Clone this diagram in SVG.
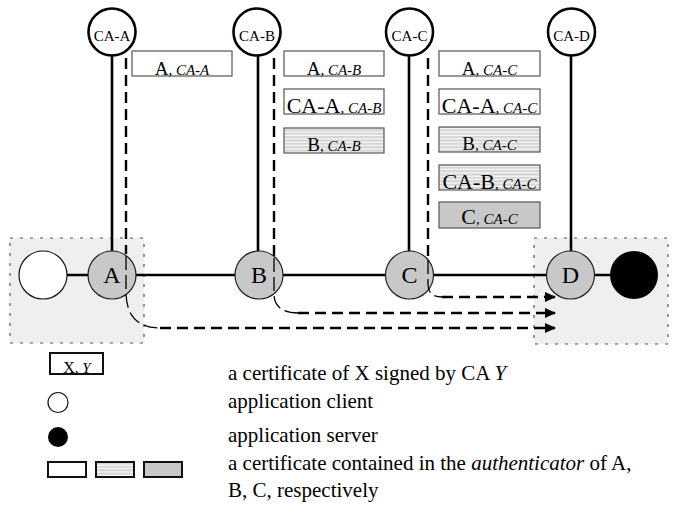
<svg xmlns="http://www.w3.org/2000/svg" width="673" height="512" viewBox="0 0 673 512">
<style>
text{font-family:"Liberation Serif","Times New Roman",serif;fill:#000}
.zone{fill:#efefef;stroke:#555;stroke-width:1.2;stroke-dasharray:3 7}
.link{stroke:#000;stroke-width:2.6;fill:none}
.ca{fill:#fff;stroke:#000;stroke-width:2.6}
.ca-t{font-size:15px;text-anchor:middle}
.node{fill:#c8c8c8;stroke:#222;stroke-width:1.2}
.node-t{font-size:24px;text-anchor:middle}
.cert{stroke:#555;stroke-width:1.2}
.w{fill:#fff}
.s{fill:url(#stripe)}
.g{fill:#c8c8c8}
.ct{text-anchor:middle}
.it{font-style:italic;font-size:15px}
.flow{stroke:#000;stroke-width:2.4;fill:none;stroke-dasharray:11 6}
.thin{stroke:#000;stroke-width:1.3;fill:none;stroke-dasharray:14 5}
.end{marker-end:url(#arr)}
.leg{font-size:21px}
.legbox{stroke:#111;stroke-width:2}
</style>
<defs>
<pattern id="stripe" width="6" height="3.4" patternUnits="userSpaceOnUse">
<rect width="6" height="3.4" fill="#d6d6d6"/>
<rect y="2.2" width="6" height="1.2" fill="#fafafa"/>
</pattern>
<marker id="arr" markerWidth="11" markerHeight="11" refX="10" refY="5" orient="auto" markerUnits="userSpaceOnUse">
<path d="M0,0 L11,5 L0,10 z" fill="#000"/>
</marker>
</defs>

<g id="zone-client">
<rect class="zone" x="10" y="238" width="134" height="105"/>
</g>
<g id="zone-server">
<rect class="zone" x="534" y="238" width="134" height="106"/>
</g>

<g id="links">
<line class="link" x1="67" y1="275" x2="610" y2="275"/>
<line class="link" x1="112" y1="56" x2="112" y2="252"/>
<line class="link" x1="258" y1="56" x2="258" y2="252"/>
<line class="link" x1="409" y1="56" x2="409" y2="252"/>
<line class="link" x1="571" y1="56" x2="571" y2="252"/>
</g>

<g id="client"><circle cx="43" cy="275" r="24" fill="#fff" stroke="#111" stroke-width="1.2"/></g>
<g id="node-A"><circle class="node" cx="112" cy="275" r="24"/><text class="node-t" x="112" y="283">A</text></g>
<g id="node-B"><circle class="node" cx="259" cy="275" r="24"/><text class="node-t" x="259" y="283">B</text></g>
<g id="node-C"><circle class="node" cx="409.5" cy="275" r="24"/><text class="node-t" x="409.5" y="283">C</text></g>
<g id="node-D"><circle class="node" cx="570.5" cy="275" r="24"/><text class="node-t" x="570.5" y="283">D</text></g>
<g id="server"><circle cx="634" cy="275" r="24" fill="#000"/></g>

<g id="connectors">
<path class="flow" d="M126,58 V254"/>
<path class="thin" d="M126,256 V292 C126,316 138,328 160,328"/>
<path class="flow end" d="M160,328 H555"/>
<path class="flow" d="M274,58 V256"/>
<path class="thin" d="M274,258 V294 C274,306 282,313 298,313"/>
<path class="flow end" d="M298,313 H555"/>
<path class="flow" d="M428,58 V258"/>
<path class="thin" d="M428,260 V284 C428,292 432,297 442,297"/>
<path class="flow end" d="M442,297 H555"/>
</g>

<g id="CA-A"><circle class="ca" cx="112" cy="32" r="23.5"/><text class="ca-t" x="112" y="41">CA-A</text></g>
<g id="CA-B"><circle class="ca" cx="257" cy="32" r="23.5"/><text class="ca-t" x="257" y="41">CA-B</text></g>
<g id="CA-C"><circle class="ca" cx="409.5" cy="32" r="23.5"/><text class="ca-t" x="409.5" y="41">CA-C</text></g>
<g id="CA-D"><circle class="ca" cx="571.5" cy="32" r="23.5"/><text class="ca-t" x="571.5" y="41">CA-D</text></g>

<g id="certs-A">
<rect class="cert w" x="132" y="51" width="100" height="25"/>
<text class="ct" x="182" y="75"><tspan font-size="19">A</tspan><tspan class="it">, CA-A</tspan></text>
</g>
<g id="certs-B">
<rect class="cert w" x="284" y="51" width="100" height="25"/>
<text class="ct" x="334" y="75"><tspan font-size="19">A</tspan><tspan class="it">, CA-B</tspan></text>
<rect class="cert w" x="284" y="89" width="100" height="25"/>
<text class="ct" x="334" y="112.5"><tspan font-size="22">CA-A</tspan><tspan class="it">, CA-B</tspan></text>
<rect class="cert s" x="284" y="128" width="100" height="25"/>
<text class="ct" x="334" y="151"><tspan font-size="19">B</tspan><tspan class="it">, CA-B</tspan></text>
</g>
<g id="certs-C">
<rect class="cert w" x="439" y="51" width="101" height="25"/>
<text class="ct" x="489.5" y="75"><tspan font-size="19">A</tspan><tspan class="it">, CA-C</tspan></text>
<rect class="cert w" x="439" y="89" width="101" height="25"/>
<text class="ct" x="489.5" y="112.5"><tspan font-size="22">CA-A</tspan><tspan class="it">, CA-C</tspan></text>
<rect class="cert s" x="439" y="127" width="101" height="25"/>
<text class="ct" x="489.5" y="150"><tspan font-size="19">B</tspan><tspan class="it">, CA-C</tspan></text>
<rect class="cert s" x="439" y="165" width="101" height="25"/>
<text class="ct" x="489.5" y="188.5"><tspan font-size="22">CA-B</tspan><tspan class="it">, CA-C</tspan></text>
<rect class="cert g" x="439" y="202" width="101" height="26"/>
<text class="ct" x="489.5" y="224"><tspan font-size="22">C</tspan><tspan class="it">, CA-C</tspan></text>
</g>

<g id="legend">
<rect class="legbox" x="50" y="353" width="53" height="21" fill="#fff"/>
<text class="ct" x="77" y="373"><tspan font-size="16">X</tspan><tspan font-size="15" font-style="italic">, Y</tspan></text>
<text class="leg" x="228" y="380">a certificate of X signed by CA <tspan font-style="italic">Y</tspan></text>
<circle cx="58" cy="402.5" r="10" fill="#fff" stroke="#111" stroke-width="1.2"/>
<text class="leg" x="228" y="408">application client</text>
<circle cx="58" cy="437" r="10" fill="#000"/>
<text class="leg" x="228" y="442">application server</text>
<rect class="legbox w" x="48" y="462" width="38" height="15"/>
<rect class="legbox s" x="96" y="462" width="38" height="15"/>
<rect class="legbox g" x="144" y="462" width="38" height="15"/>
<text class="leg" x="228" y="470">a certificate contained in the <tspan font-style="italic">authenticator</tspan> of A,</text>
<text class="leg" x="228" y="497">B, C, respectively</text>
</g>
</svg>
